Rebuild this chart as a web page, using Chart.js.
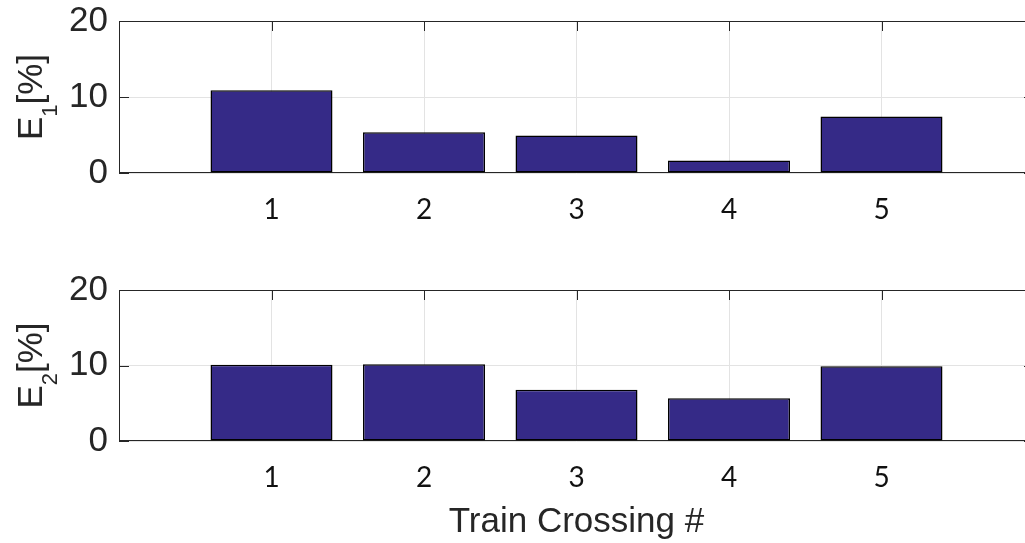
<!DOCTYPE html>
<html>
<head>
<meta charset="utf-8">
<title>Train crossing errors</title>
<script src="https://cdn.jsdelivr.net/npm/chart.js@4/dist/chart.umd.min.js"></script>
<style>
html, body { margin: 0; padding: 0; background: #fff; overflow: hidden; }
.panel { position: absolute; left: 0; width: 1045px; }
#top { top: 0; height: 255px; }
#bottom { top: 268px; height: 275px; }
</style>
</head>
<body>
<div class="panel" id="top"><canvas id="chart1"></canvas></div>
<div class="panel" id="bottom"><canvas id="chart2"></canvas></div>
<script>
var crossings = [1, 2, 3, 4, 5];
var e1 = [10.9, 5.35, 4.95, 1.65, 7.45];
var e2 = [10.1, 10.15, 6.8, 5.65, 9.9];
var xRange = [0, 6];
var yRange = [0, 20];
var yStep = 10;

var barColor = 'rgb(53, 42, 135)';
var axisColor = '#262626';
var gridColor = '#e3e3e3';
var helv = '"Liberation Sans", Arial, sans-serif';

// box round the plot area and the short inward ticks (matlab style)
var boxPlugin = {
    id: 'box',
    beforeDatasetsDraw: function(chart) {
        var a = chart.chartArea;
        var ctx = chart.ctx;
        var xs = chart.scales.x;
        var ys = chart.scales.y;
        ctx.save();
        ctx.strokeStyle = axisColor;
        ctx.lineWidth = 1;
        ctx.strokeRect(a.left + 0.5, a.top + 0.5, a.right - a.left - 1, a.bottom - a.top - 1);
        ctx.beginPath();
        for (var i = 0; i < crossings.length; i++) {
            var px = Math.round(xs.getPixelForValue(crossings[i])) + 0.5;
            ctx.moveTo(px, a.top);
            ctx.lineTo(px, a.top + 10);
            ctx.moveTo(px, a.bottom);
            ctx.lineTo(px, a.bottom - 10);
        }
        for (var v = yRange[0]; v <= yRange[1]; v += yStep) {
            var py = Math.round(ys.getPixelForValue(v)) + 0.5;
            ctx.moveTo(a.left, py);
            ctx.lineTo(a.left + 10, py);
            ctx.moveTo(a.right, py);
            ctx.lineTo(a.right - 10, py);
        }
        ctx.stroke();
        ctx.restore();
    }
};

// rotated y label with a subscript, e.g. E_1 [%]
var yTitlePlugin = {
    id: 'ytitle',
    afterDraw: function(chart, args, opts) {
        var a = chart.chartArea;
        var ctx = chart.ctx;
        var big = '35px ' + helv;
        var small = '22px ' + helv;
        ctx.save();
        ctx.font = big;
        var wMain = ctx.measureText(opts.main).width;
        var wTail = ctx.measureText(opts.tail).width;
        ctx.font = small;
        var wSub = ctx.measureText(opts.sub).width;
        var total = wMain + wSub + wTail;

        ctx.translate(42, (a.top + a.bottom) / 2);
        ctx.rotate(-Math.PI / 2);
        ctx.fillStyle = axisColor;
        ctx.textBaseline = 'alphabetic';
        ctx.textAlign = 'left';
        var u = -total / 2;
        ctx.font = big;
        ctx.fillText(opts.main, u, 0);
        u += wMain;
        ctx.font = small;
        ctx.fillText(opts.sub, u, 15);
        u += wSub;
        ctx.font = big;
        ctx.fillText(opts.tail, u, 0);
        ctx.restore();
    }
};

function makeChart(id, values, sub, padTop, xHeight, xTitle) {
    var points = [];
    for (var i = 0; i < crossings.length; i++) {
        points.push({ x: crossings[i], y: values[i] });
    }

    var ctx = document.getElementById(id).getContext('2d');
    return new Chart(ctx, {
        type: 'bar',
        data: {
            datasets: [{
                data: points,
                backgroundColor: barColor,
                borderColor: '#000',
                borderWidth: 1.5,
                borderSkipped: false,
                barPercentage: 0.8,
                categoryPercentage: 1
            }]
        },
        plugins: [boxPlugin, yTitlePlugin],
        options: {
            responsive: true,
            maintainAspectRatio: false,
            animation: false,
            layout: { padding: { top: padTop, right: 11, left: 0, bottom: 0 } },
            plugins: {
                legend: { display: false },
                tooltip: { enabled: false },
                ytitle: { main: 'E', sub: sub, tail: '[%]' }
            },
            scales: {
                x: {
                    type: 'linear',
                    min: xRange[0],
                    max: xRange[1],
                    offset: false,
                    grid: { color: gridColor, drawTicks: false, offset: false },
                    border: { display: false },
                    ticks: {
                        stepSize: 1,
                        padding: 20,
                        color: '#111',
                        font: { family: 'Lato', size: 28 },
                        callback: function(v) {
                            return crossings.indexOf(v) >= 0 ? String(v) : '';
                        }
                    },
                    title: {
                        display: !!xTitle,
                        text: xTitle || '',
                        color: axisColor,
                        font: { family: helv, size: 35, lineHeight: 1.2 },
                        padding: { top: 0, bottom: 0 }
                    },
                    afterFit: function(s) {
                        s.height = xHeight;
                        s.paddingLeft = 0;
                        s.paddingRight = 0;
                    }
                },
                y: {
                    min: yRange[0],
                    max: yRange[1],
                    grid: { color: gridColor, drawTicks: false },
                    border: { display: false },
                    ticks: {
                        stepSize: yStep,
                        padding: 11,
                        color: axisColor,
                        font: { family: helv, size: 35 }
                    },
                    afterFit: function(s) {
                        s.width = 119;
                        s.paddingTop = 0;
                        s.paddingBottom = 0;
                    }
                }
            }
        }
    });
}

makeChart('chart1', e1, '1', 21, 82, null);
makeChart('chart2', e2, '2', 22, 102, 'Train Crossing #');
</script>
</body>
</html>
